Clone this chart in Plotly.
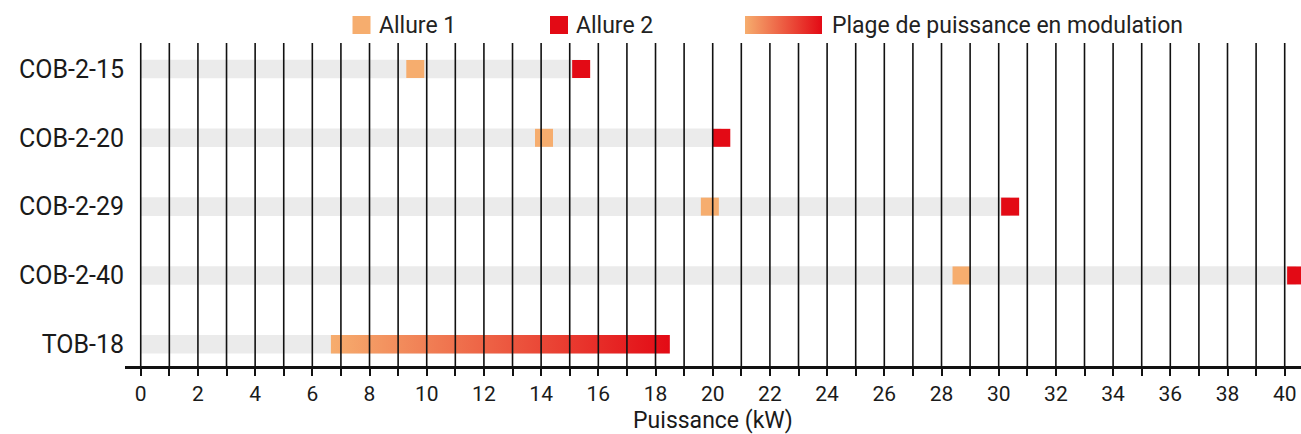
import plotly.graph_objects as go

# ---- data ----
models = ["COB-2-15", "COB-2-20", "COB-2-29", "COB-2-40", "TOB-18"]
allure1 = [9.6, 14.1, 19.9, 28.7]          # kW, COB models
allure2 = [15.4, 20.3, 30.4, 40.4]         # kW, COB models
tob_range = [6.65, 18.5]                   # modulation range TOB-18 (kW)
x_ticks = list(range(0, 41, 2))
legend_labels = ["Allure 1", "Allure 2", "Plage de puissance en modulation"]

ORANGE = "#F6AD6E"
RED = "#E30A15"
GREY = "#EBEBEB"
FONT = "Roboto"
TXT = "#1a1a1a"

n = len(models)
pos = [n - 1 - i for i in range(n)]        # top row first
cob_pos = pos[:4]
tob_pos = pos[4]
bar_h = 0.27

fig = go.Figure()

# grey background bars
fig.add_trace(go.Bar(
    orientation="h", y=pos, x=allure2 + [tob_range[1]], base=0,
    width=bar_h, marker=dict(color=GREY, line=dict(width=0)),
    showlegend=False, hoverinfo="skip"))

# modulation range (gradient)
h = bar_h / 2
fig.add_trace(go.Scatter(
    x=[tob_range[0], tob_range[1], tob_range[1], tob_range[0], tob_range[0]],
    y=[tob_pos - h, tob_pos - h, tob_pos + h, tob_pos + h, tob_pos - h],
    mode="lines", line=dict(width=0), fill="toself",
    fillgradient=dict(type="horizontal", start=tob_range[0], stop=tob_range[1],
                      colorscale=[[0, ORANGE], [1, RED]]),
    showlegend=False, hoverinfo="skip"))

# allure 1 / allure 2 markers
fig.add_trace(go.Scatter(
    x=allure1, y=cob_pos, mode="markers",
    marker=dict(symbol="square", size=18, color=ORANGE, line=dict(width=0)),
    showlegend=False, name=legend_labels[0]))
fig.add_trace(go.Scatter(
    x=allure2, y=cob_pos, mode="markers",
    marker=dict(symbol="square", size=18, color=RED, line=dict(width=0)),
    showlegend=False, name=legend_labels[1]))

# ---- custom legend on pixel-like overlay axes ----
fig.add_trace(go.Scatter(
    x=[361.5, 559], y=[25, 25], mode="markers", xaxis="x2", yaxis="y2",
    marker=dict(symbol="square", size=18, color=[ORANGE, RED], line=dict(width=0)),
    showlegend=False, hoverinfo="skip"))
fig.add_trace(go.Scatter(
    x=[745, 822, 822, 745, 745], y=[16, 16, 34, 34, 16], xaxis="x2", yaxis="y2",
    mode="lines", line=dict(width=0), fill="toself",
    fillgradient=dict(type="horizontal", start=745, stop=822,
                      colorscale=[[0, ORANGE], [1, RED]]),
    showlegend=False, hoverinfo="skip"))
for xl, lab in zip([377, 574, 830], legend_labels):
    fig.add_annotation(x=xl, y=25, xref="x2", yref="y2", text=lab, showarrow=False,
                       xanchor="left", yanchor="middle",
                       font=dict(family=FONT, size=23, color="#222"))

# vertical grid lines above the bars
shapes = []
for v in range(0, 41):
    shapes.append(dict(type="line", xref="x", yref="y domain", x0=v, x1=v, y0=0, y1=1,
                       line=dict(color="#111", width=1.6), layer="above"))

fig.update_layout(
    width=1301, height=434,
    margin=dict(l=125, r=0, t=0, b=68),
    paper_bgcolor="white", plot_bgcolor="white",
    font=dict(family=FONT, color=TXT),
    barmode="overlay",
    shapes=shapes,
    xaxis=dict(range=[-0.55, 40.57], tickvals=x_ticks, ticks="outside", ticklen=7,
               tickwidth=1.5, tickcolor="#111",
               minor=dict(dtick=1, ticks="outside", ticklen=7, tickwidth=1.5, tickcolor="#111"),
               showgrid=False, zeroline=False, showline=True, linecolor="#111", linewidth=2.5,
               tickfont=dict(family=FONT, size=21, color=TXT),
               title=dict(text="Puissance (kW)", font=dict(family=FONT, size=23, color=TXT),
                          standoff=11),
               fixedrange=True),
    yaxis=dict(domain=[0, 0.8825], range=[-0.316, 4.378], tickvals=pos, ticktext=models,
               showgrid=False, zeroline=False, showline=False, ticks="",
               tickfont=dict(family=FONT, size=25, color=TXT), fixedrange=True),
    xaxis2=dict(domain=[0, 1], range=[125, 1301], anchor="y2", visible=False, fixedrange=True),
    yaxis2=dict(domain=[0.8825, 1], range=[43, 0], anchor="x2", visible=False, fixedrange=True),
)

fig.write_html("out.html", config={"displayModeBar": False},
               post_script="document.body.style.margin='0';document.body.style.overflow='hidden';")
